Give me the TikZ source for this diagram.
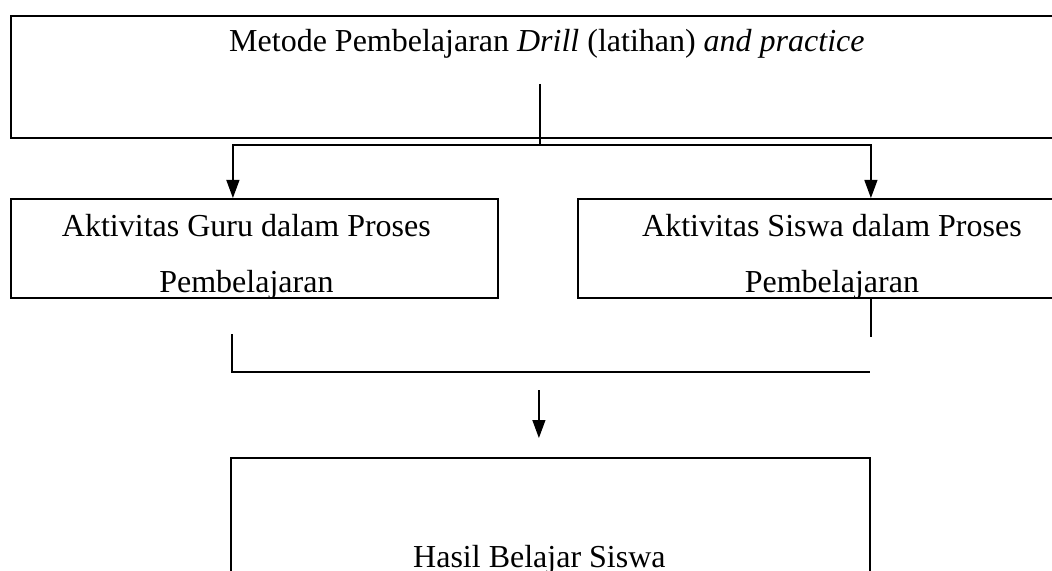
\documentclass[tikz,border=0pt]{standalone}
\usepackage{fontspec}
\setmainfont{Liberation Serif}
\usetikzlibrary{positioning,arrows.meta}

\begin{document}
\begin{tikzpicture}[x=0.5pt,y=-0.5pt,
    box/.style={draw,line width=0.9pt,anchor=north west,inner ysep=0pt,
                align=center,font=\fontsize{16}{28}\selectfont},
    line/.style={line width=0.6pt},
    arr/.style={line,-{Triangle[length=9pt,width=6.5pt]}}]
    \useasboundingbox (0,0) rectangle (1052,571);
    \clip (0,0) rectangle (1052,571);
    \node[box,minimum width=536pt,text height=17.85pt,text depth=43.15pt] (metode) at (10,15)
        {Metode Pembelajaran \textit{Drill} (latihan) \textit{and practice}};
    \node[box,minimum width=243.5pt,text height=47pt,text depth=2.5pt] (guru) at (10,198)
        {Aktivitas Guru dalam Proses\hspace*{8pt}\\Pembelajaran\hspace*{8pt}};
    \node[box,minimum width=254pt,text height=47pt,text depth=2.5pt] (siswa) at (577,198)
        {Aktivitas Siswa dalam Proses\\Pembelajaran};
    \node[box,minimum width=319.5pt,text height=55pt,text depth=30pt] (hasil) at (230,457)
        {Hasil Belajar Siswa\hspace*{11pt}};
    \coordinate (forkTop) at (540,84);
    \coordinate (fork)    at (540,145);
    \coordinate (joinL)   at (232,334);
    \coordinate (joinR)   at (870,372);
    \draw[line] (forkTop) -- (fork);
    \draw[arr]  (fork) -| ([xshift=-10.75pt]guru.north);
    \draw[arr]  (fork) -| ([xshift=19.5pt]siswa.north);
    \draw[line] ([xshift=19.5pt]siswa.south) -- ([xshift=19.5pt,yshift=-19pt]siswa.south);
    \draw[line] (joinL) |- (joinR);
    \draw[arr]  ([xshift=-5.75pt,yshift=33.5pt]hasil.north) -- ([xshift=-5.75pt,yshift=9.5pt]hasil.north);
\end{tikzpicture}
\end{document}
